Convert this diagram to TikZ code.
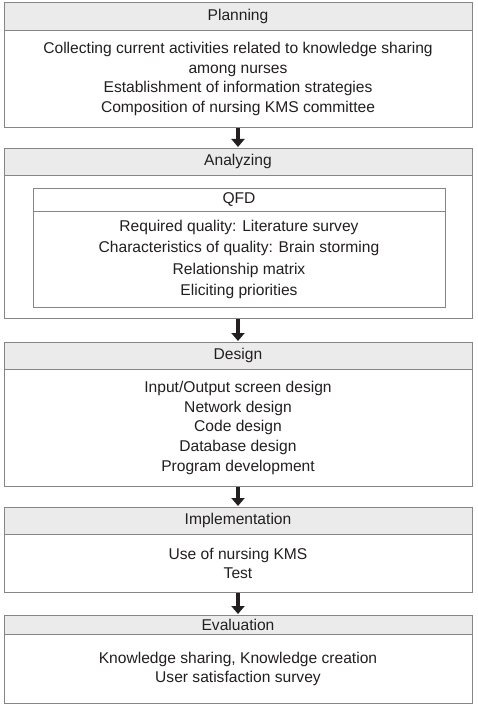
\documentclass[tikz,border=0pt]{standalone}
\usepackage{fontspec}
\setmainfont{Liberation Sans}
\usetikzlibrary{arrows.meta}
\definecolor{bordergray}{HTML}{858585}
\definecolor{hdrgray}{HTML}{EBEBEB}
\definecolor{arrowc}{HTML}{231F20}
\begin{document}
\begin{tikzpicture}[x=1pt,y=-1pt,
  base/.style={draw=bordergray, line width=0.9pt, anchor=north, inner sep=0pt, align=center,
    font=\fontsize{15.6}{19.6}\selectfont, text=arrowc},
  hdr/.style={base, fill=hdrgray, minimum width=468pt},
  bodybox/.style={base, fill=white, minimum width=468pt},
  qhdr/.style={base, fill=white, minimum width=412pt},
  qbody/.style={base, fill=white, minimum width=412pt, font=\fontsize{15.6}{21.3}\selectfont},
  flow/.style={arrowc, line width=3.6pt, -{Triangle[width=13pt,length=8pt]}, shorten >=1pt}]
\useasboundingbox (0,0) rectangle (477,708);
% Planning
\node[hdr, minimum height=28pt] (ph) at (238,2) {Planning};
\node[bodybox, minimum height=97pt] (pb) at (238,30) {Collecting current activities related to knowledge sharing\\among nurses\\Establishment of information strategies\\Composition of nursing KMS committee};
% Analyzing
\node[hdr, minimum height=27pt] (ah) at (238,148) {Analyzing};
\node[bodybox, minimum height=143pt] (ab) at (238,175) {};
\node[qhdr, minimum height=23pt] (qh) at (239,188) {QFD};
\node[qbody, minimum height=96pt] (qb) at (239,211) {Required quality: Literature survey\\Characteristics of quality: Brain storming\\Relationship matrix\\Eliciting priorities};
% Design
\node[hdr, minimum height=27pt] (dh) at (238,342) {Design};
\node[bodybox, minimum height=117pt] (db) at (238,369) {Input/Output screen design\\Network design\\Code design\\Database design\\Program development};
% Implementation
\node[hdr, minimum height=27pt] (ih) at (238,507) {Implementation};
\node[bodybox, minimum height=58pt] (ib) at (238,534) {Use of nursing KMS\\Test};
% Evaluation
\node[hdr, minimum height=19pt] (eh) at (238,615) {Evaluation};
\node[bodybox, minimum height=69pt] (eb) at (238,634) {Knowledge sharing, Knowledge creation\\User satisfaction survey};
% arrows
\draw[flow] (pb.south) -- (ah.north);
\draw[flow] (ab.south) -- (dh.north);
\draw[flow] (db.south) -- (ih.north);
\draw[flow] (ib.south) -- (eh.north);
\end{tikzpicture}
\end{document}
